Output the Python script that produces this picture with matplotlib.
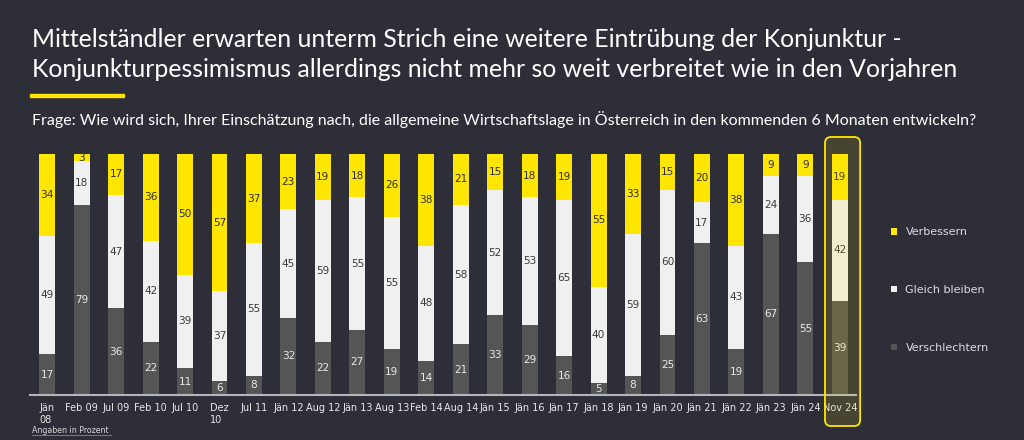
import matplotlib
matplotlib.use("Agg")
import matplotlib.pyplot as plt
from matplotlib.patches import FancyBboxPatch, Rectangle
from matplotlib.lines import Line2D

# ---------------- data ----------------
categories = ["Jän\n08", "Feb 09", "Jul 09", "Feb 10", "Jul 10", "Dez\n10", "Jul 11",
              "Jän 12", "Aug 12", "Jän 13", "Aug 13", "Feb 14", "Aug 14", "Jän 15",
              "Jän 16", "Jän 17", "Jän 18", "Jän 19", "Jän 20", "Jän 21", "Jän 22",
              "Jän 23", "Jän 24", "Nov 24"]
verschlechtern = [17, 79, 36, 22, 11, 6, 8, 32, 22, 27, 19, 14, 21, 33, 29, 16, 5, 8, 25, 63, 19, 67, 55, 39]
gleich_bleiben = [49, 18, 47, 42, 39, 37, 55, 45, 59, 55, 55, 48, 58, 52, 53, 65, 40, 59, 60, 17, 43, 24, 36, 42]
verbessern     = [34, 3, 17, 36, 50, 57, 37, 23, 19, 18, 26, 38, 21, 15, 18, 19, 55, 33, 15, 20, 38, 9, 9, 19]
series_labels = ["Verschlechtern", "Gleich bleiben", "Verbessern"]
highlight_index = 23

title_line1 = "Mittelständler erwarten unterm Strich eine weitere Eintrübung der Konjunktur -"
title_line2 = "Konjunkturpessimismus allerdings nicht mehr so weit verbreitet wie in den Vorjahren"
subtitle = ("Frage: Wie wird sich, Ihrer Einschätzung nach, die allgemeine Wirtschaftslage in "
            "Österreich in den kommenden 6 Monaten entwickeln?")
note = "Angaben in Prozent"

# ---------------- style ----------------
BG = "#2e2e38"
YELLOW = "#ffe600"
WHITE = "#f0f0f0"
DARK = "#555555"
W, H = 1024, 440

fig = plt.figure(figsize=(W / 100, H / 100), dpi=100, facecolor=BG)
ax = fig.add_axes([30 / W, 45 / H, 826 / W, 241 / H])
ax.set_facecolor(BG)

x = list(range(len(categories)))
bw = 0.46
b1 = ax.bar(x, verschlechtern, bw, color=DARK, label=series_labels[0], zorder=2)
bottom2 = list(verschlechtern)
b2 = ax.bar(x, gleich_bleiben, bw, bottom=bottom2, color=WHITE, label=series_labels[1], zorder=2)
bottom3 = [a + b for a, b in zip(verschlechtern, gleich_bleiben)]
b3 = ax.bar(x, verbessern, bw, bottom=bottom3, color=YELLOW, label=series_labels[2], zorder=2)

ax.bar_label(b1, label_type="center", color="#e8e8e8", fontsize=7.6, zorder=3)
ax.bar_label(b2, label_type="center", color="#3a3a3a", fontsize=7.6, zorder=3)
ax.bar_label(b3, label_type="center", color="#2e2e38", fontsize=7.6, zorder=3)

ax.set_xlim(-0.499, 23.47)
ax.set_ylim(0, 100)
ax.axhline(0, color="#b4b4bc", lw=1.5, zorder=4, clip_on=False)
for s in ax.spines.values():
    s.set_visible(False)
ax.set_yticks([])
ax.set_xticks(x, categories)
ax.tick_params(axis="x", length=0, pad=6, labelsize=7, labelcolor="#e8e8e8")
for t in ax.get_xticklabels():
    t.set_multialignment("left")

# legend
h, l = ax.get_legend_handles_labels()
fig.legend(h[::-1], l[::-1], loc="center left", bbox_to_anchor=(891 / W, (H - 290) / H),
           frameon=False, fontsize=8, labelcolor="#dcdcdc", handlelength=0.55,
           handleheight=0.55, handletextpad=0.75, labelspacing=4.3, borderpad=0,
           borderaxespad=0)

# highlight box around last bar
fig.canvas.draw()
r = fig.canvas.get_renderer()
x0 = ax.transData.transform((highlight_index - 0.43, 0))[0]
x1 = ax.transData.transform((highlight_index + 0.59, 0))[0]
box = FancyBboxPatch((x0, H - 426), x1 - x0, 426 - 137,
                     boxstyle="round,pad=0,rounding_size=6",
                     transform=None, facecolor=(1, 0.9, 0, 0.12),
                     edgecolor=YELLOW, lw=1.3, zorder=10)
fig.patches.append(box)
box.set_figure(fig)

# titles
t1 = fig.text(32 / W, (H - 47) / H, title_line1, color="white", fontsize=16,
              family="Lato", va="baseline", ha="left")
t2 = fig.text(32 / W, (H - 77) / H, title_line2, color="white", fontsize=16,
              family="Lato", va="baseline", ha="left")
st = fig.text(32 / W, (H - 124.5) / H, subtitle, color="white", fontsize=10,
              family="Lato", va="baseline", ha="left")

def fit(t, target):
    w = t.get_window_extent(renderer=r).width
    t.set_fontsize(t.get_fontsize() * target / w)

fit(t1, 910 - 32)
fit(t2, 966 - 32)
fit(st, 981 - 32)

fig.patches.append(Rectangle((30 / W, (H - 97) / H), 94 / W, 3 / H,
                             transform=fig.transFigure, color=YELLOW, figure=fig))

fig.text(32 / W, (H - 430) / H, note, color="#d8d8d8", fontsize=5.7, va="center", ha="left")
fig.lines.append(Line2D([32 / W, 111 / W], [(H - 434.5) / H] * 2, transform=fig.transFigure,
                        color="#8a8a92", lw=0.6, figure=fig))

fig.savefig("out.png", dpi=100, facecolor=BG)
